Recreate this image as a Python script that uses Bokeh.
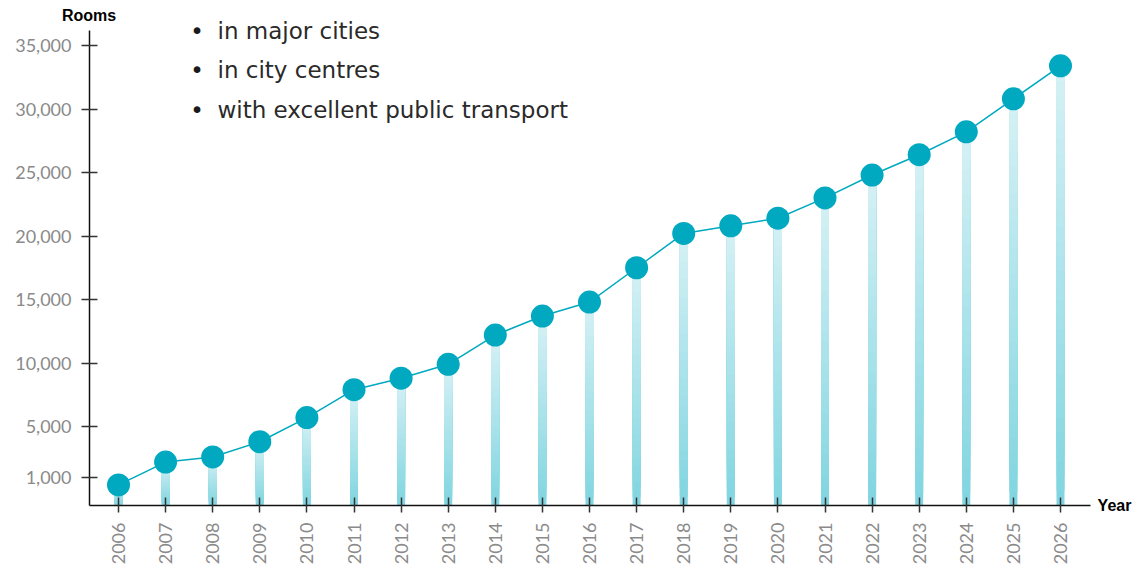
from bokeh.plotting import figure
from bokeh.models import Range1d, FixedTicker, Label, ColumnDataSource, NumeralTickFormatter
from bokeh.embed import file_html
from bokeh.resources import INLINE
import math

years = list(range(2006, 2027))
rooms = [400, 2200, 2600, 3800, 5700, 7900, 8800, 9900, 12200, 13700, 14800,
         17500, 20200, 20800, 21400, 23000, 24800, 26400, 28200, 30800, 33400]
y_ticks = [1000, 5000, 10000, 15000, 20000, 25000, 30000, 35000]
bullets = ["in major cities", "in city centres", "with excellent public transport"]

TEAL = "#00a9c0"
W, H = 1134, 570
FL, FR, FT, FB = 89, 1114, 15, 505          # frame edges in page px
# x: 2006 at px 118, 47.1 px per year; y: 0 at px 489.5, 12.7 px per 1000
X0 = 2006 - (118 - FL) / 47.1
X1 = 2006 + (FR - 118) / 47.1
Y0 = -(FB - 489.5) * 1000 / 12.7
Y1 = (489.5 - FT) * 1000 / 12.7

def dx(px):
    return X0 + (px - FL) / (FR - FL) * (X1 - X0)

def dy(py):
    return Y0 + (FB - py) / (FB - FT) * (Y1 - Y0)

p = figure(width=W, height=H, output_backend="svg", toolbar_location=None,
           x_range=Range1d(X0, X1), y_range=Range1d(Y0, Y1),
           min_border_left=FL, min_border_right=W - FR, min_border_top=FT, min_border_bottom=H - FB)
p.outline_line_color = None
p.xgrid.visible = False
p.ygrid.visible = False
p.background_fill_color = "white"

def lerp(c1, c2, t):
    a = [int(c1[i:i+2], 16) for i in (1, 3, 5)]
    b = [int(c2[i:i+2], 16) for i in (1, 3, 5)]
    return "#%02x%02x%02x" % tuple(round(a[k] + (b[k] - a[k]) * t) for k in range(3))

# gradient bars: stacked overlapping layers (each from its slice bottom up to the value)
N = 30
qx, qb, qt, qc = [], [], [], []
for k in range(N):
    for yr, v in zip(years, rooms):
        qx.append(yr)
        qb.append(Y0 + (v - Y0) * k / N)
        qt.append(v)
        qc.append(lerp("#80d5e0", "#d6f1f5", (k + 0.5) / N))
src = ColumnDataSource(dict(x=qx, b=qb, t=qt, c=qc))
p.vbar(x="x", bottom="b", top="t", width=0.17, fill_color="c", line_color=None, source=src)

p.line(years, rooms, line_color=TEAL, line_width=1.5)
p.scatter(years, rooms, size=23, fill_color=TEAL, line_color=None)

for ax in (p.xaxis[0], p.yaxis[0]):
    ax.axis_line_color = "#111111"
    ax.axis_line_width = 1.5
    ax.major_tick_line_color = "#333333"
    ax.major_tick_line_width = 1.5
    ax.minor_tick_line_color = None
    ax.major_label_text_color = "#8a8a8a"
    ax.major_label_text_font = "Lato"
    ax.major_label_text_font_size = "18px"
    ax.major_label_standoff = 10
    ax.axis_label_text_font = "Liberation Sans"
    ax.axis_label_text_font_style = "bold"
    ax.axis_label_text_font_size = "16px"
    ax.axis_label_text_color = "#000000"
    ax.axis_label_align = "end"

p.xaxis.ticker = FixedTicker(ticks=years)
p.xaxis.major_label_orientation = math.pi / 2
p.xaxis.major_tick_in = 8
p.xaxis.major_tick_out = 7
p.xaxis.bounds = (X0, dx(1090))
p.xaxis.axis_label = "Year"
p.xaxis.axis_label_standoff = -70

p.yaxis.ticker = FixedTicker(ticks=y_ticks)
p.yaxis.formatter = NumeralTickFormatter(format="0,0")
p.yaxis.major_tick_in = 8
p.yaxis.major_tick_out = 8
p.yaxis.bounds = (Y0, dy(30))
p.yaxis.axis_label = "Rooms"
p.yaxis.axis_label_orientation = "horizontal"
p.yaxis.axis_label_standoff = -104

for i, txt in enumerate(bullets):
    yy = dy(30 + i * 39.5)
    p.add_layout(Label(x=dx(196.5), y=yy, text="•", text_align="center", text_baseline="middle",
                       text_font="DejaVu Sans", text_font_size="23px", text_color="#1a1a1a"))
    p.add_layout(Label(x=dx(217), y=yy, text=txt, text_align="left", text_baseline="middle",
                       text_font="DejaVu Sans", text_font_size="23px", text_color="#2a2a2a"))

open("out.html", "w").write(file_html(p, INLINE))
